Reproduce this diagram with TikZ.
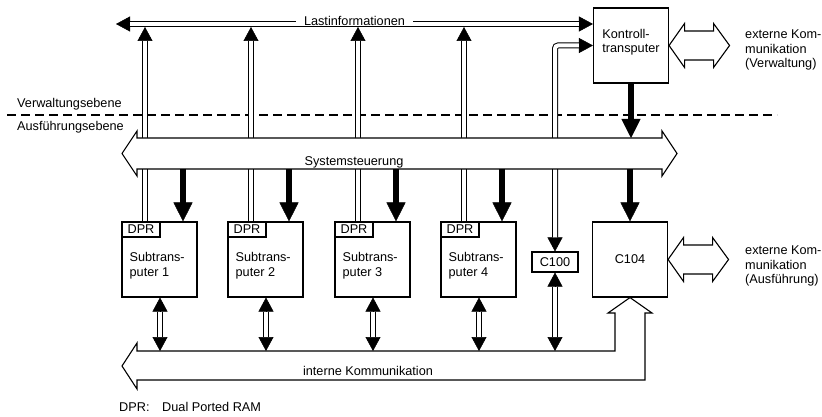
\documentclass[tikz,border=0pt]{standalone}
\usepackage{fontspec}
\setmainfont{Liberation Sans}
\usetikzlibrary{arrows.meta,calc}

\begin{document}
\begin{tikzpicture}[x=1pt, y=-1pt,
  every node/.style={font=\fontsize{12.7}{14.5}\selectfont, inner sep=0pt},
  box/.style={draw, line width=1.1pt, minimum width=75pt, minimum height=75pt},
  tab/.style={draw, line width=1.1pt, minimum width=38pt, minimum height=15pt, anchor=north west},
  lbl/.style={align=left},
  bus/.style={draw, fill=white, line width=1.1pt, line join=miter},
  hol/.style={double, double distance=4pt, line width=1pt},
  tipa/.style={line width=1pt, -{Triangle[length=14pt,width=15pt,line width=0.5pt]}},
  tipb/.style={line width=1pt, {Triangle[length=14pt,width=15pt,line width=0.5pt]}-{Triangle[length=14pt,width=15pt,line width=0.5pt]}},
  fat/.style={line width=6.5pt, -{Triangle[length=19pt,width=19pt,line width=0.5pt]}},
  sep/.style={line width=1.4pt, dash pattern=on 9pt off 5pt}]
\useasboundingbox (0,0) rectangle (822,417);

% Verwaltungsebene
\node[box] (kontroll) at (631,45.5) {};
\node[lbl] (kontrolltxt) at (631,42) {Kontroll-\\transputer};

% Ausfuehrungsebene
\foreach \i/\x in {1/159.5,2/265.5,3/372.5,4/478.5}{
  \node[box] (st\i) at (\x,259.5) {};
  \node[tab] (dpr\i) at (st\i.north west) {DPR};
  \node[lbl, anchor=west] (txt\i) at ($(st\i.west)+(8,6)$) {Subtrans-\\puter \i};
}
\node[draw, line width=1.1pt, minimum width=46pt, minimum height=20pt] (c100) at (555,262) {C100};
\node[box] (c104) at (630,259.5) {C104};

\coordinate (lastL) at (116,24);
\coordinate (lastR) at (kontroll.west |- lastL);
\coordinate (lastB) at (0,27);
\coordinate (sysT) at (0,138);
\coordinate (sysB) at (0,169);
\coordinate (intT) at (0,351);

\draw[sep] (7,115) -- (777,115);
\node[anchor=base west] (verwe) at (17,107.5) {Verwaltungsebene};
\node[anchor=base west] (ausfe) at (17,130.5) {Ausführungsebene};

% Lastinformationen
\draw[tipb] (lastL) -- (lastR);
\draw[hol, shorten <=14pt, shorten >=14pt] (lastL) -- (lastR);
\node[fill=white, inner xsep=8pt, text height=9pt, text depth=0pt, anchor=base] (lastinfo) at (354.5,25.5) {Lastinformationen};

% DPR nach oben
\foreach \i in {1,...,4}{
  \draw[tipa] ($(dpr\i.north)+(4,0)$) -- ($(dpr\i.north |- lastB)+(4,0)$);
  \draw[hol, shorten >=14pt] ($(dpr\i.north)+(4,0)$) -- ($(dpr\i.north |- lastB)+(4,0)$);
}

% C100 - Kontrolltransputer
\draw[tipb, rounded corners=3pt] (c100.north) |- (kontroll.west);
\draw[hol, rounded corners=3pt, shorten <=14pt, shorten >=14pt] (c100.north) |- (kontroll.west);

% Systemsteuerung
\draw[bus] (122,153.5) -- (137,131) -- (137,138) -- (662,138) -- (662,131) -- (677,153.5)
  -- (662,176) -- (662,169) -- (137,169) -- (137,176) -- cycle;
\node[anchor=base] (syst) at (354,165) {Systemsteuerung};

\foreach \i in {1,...,4}
  \draw[fat] ($(st\i.north |- sysB)+(23.5,0)$) -- ($(st\i.north)+(23.5,0)$);
\draw[fat] (c104.north |- sysB) -- (c104.north);
\draw[fat] (kontroll.south) -- (kontroll.south |- sysT);

% interne Kommunikation
\draw[bus] (122,366) -- (137,343) -- (137,351) -- (615,351) -- (615,313) -- (608,313)
  -- (c104.south) -- (652,313) -- (645,313) -- (645,380) -- (137,380) -- (137,389) -- cycle;
\node[anchor=base] (intkom) at (368,375) {interne Kommunikation};

\foreach \i in {1,...,4}{
  \draw[tipb] ($(st\i.south)+(0.5,0)$) -- ($(st\i.south |- intT)+(0.5,0)$);
  \draw[hol, shorten <=14pt, shorten >=14pt] ($(st\i.south)+(0.5,0)$) -- ($(st\i.south |- intT)+(0.5,0)$);
}
\draw[tipb] (c100.south) -- (c100.south |- intT);
\draw[hol, shorten <=14pt, shorten >=14pt] (c100.south) -- (c100.south |- intT);

% externe Kommunikation
\foreach \b in {kontroll,c104}
  \draw[bus, shift={(\b.east)}] (0,0) -- (15.5,-22) -- (15.5,-14.5) -- (44.5,-14.5) -- (44.5,-22)
    -- (60.5,0) -- (44.5,22) -- (44.5,14.5) -- (15.5,14.5) -- (15.5,22) -- cycle;
\node[lbl, anchor=west] (extv) at (745,50) {externe Kom-\\munikation\\(Verwaltung)};
\node[lbl, anchor=west] (exta) at (745,266) {externe Kom-\\munikation\\(Ausführung)};

\node[anchor=base west] (dprkey) at (119,411.5) {DPR:\quad Dual Ported RAM};
\end{tikzpicture}
\end{document}
